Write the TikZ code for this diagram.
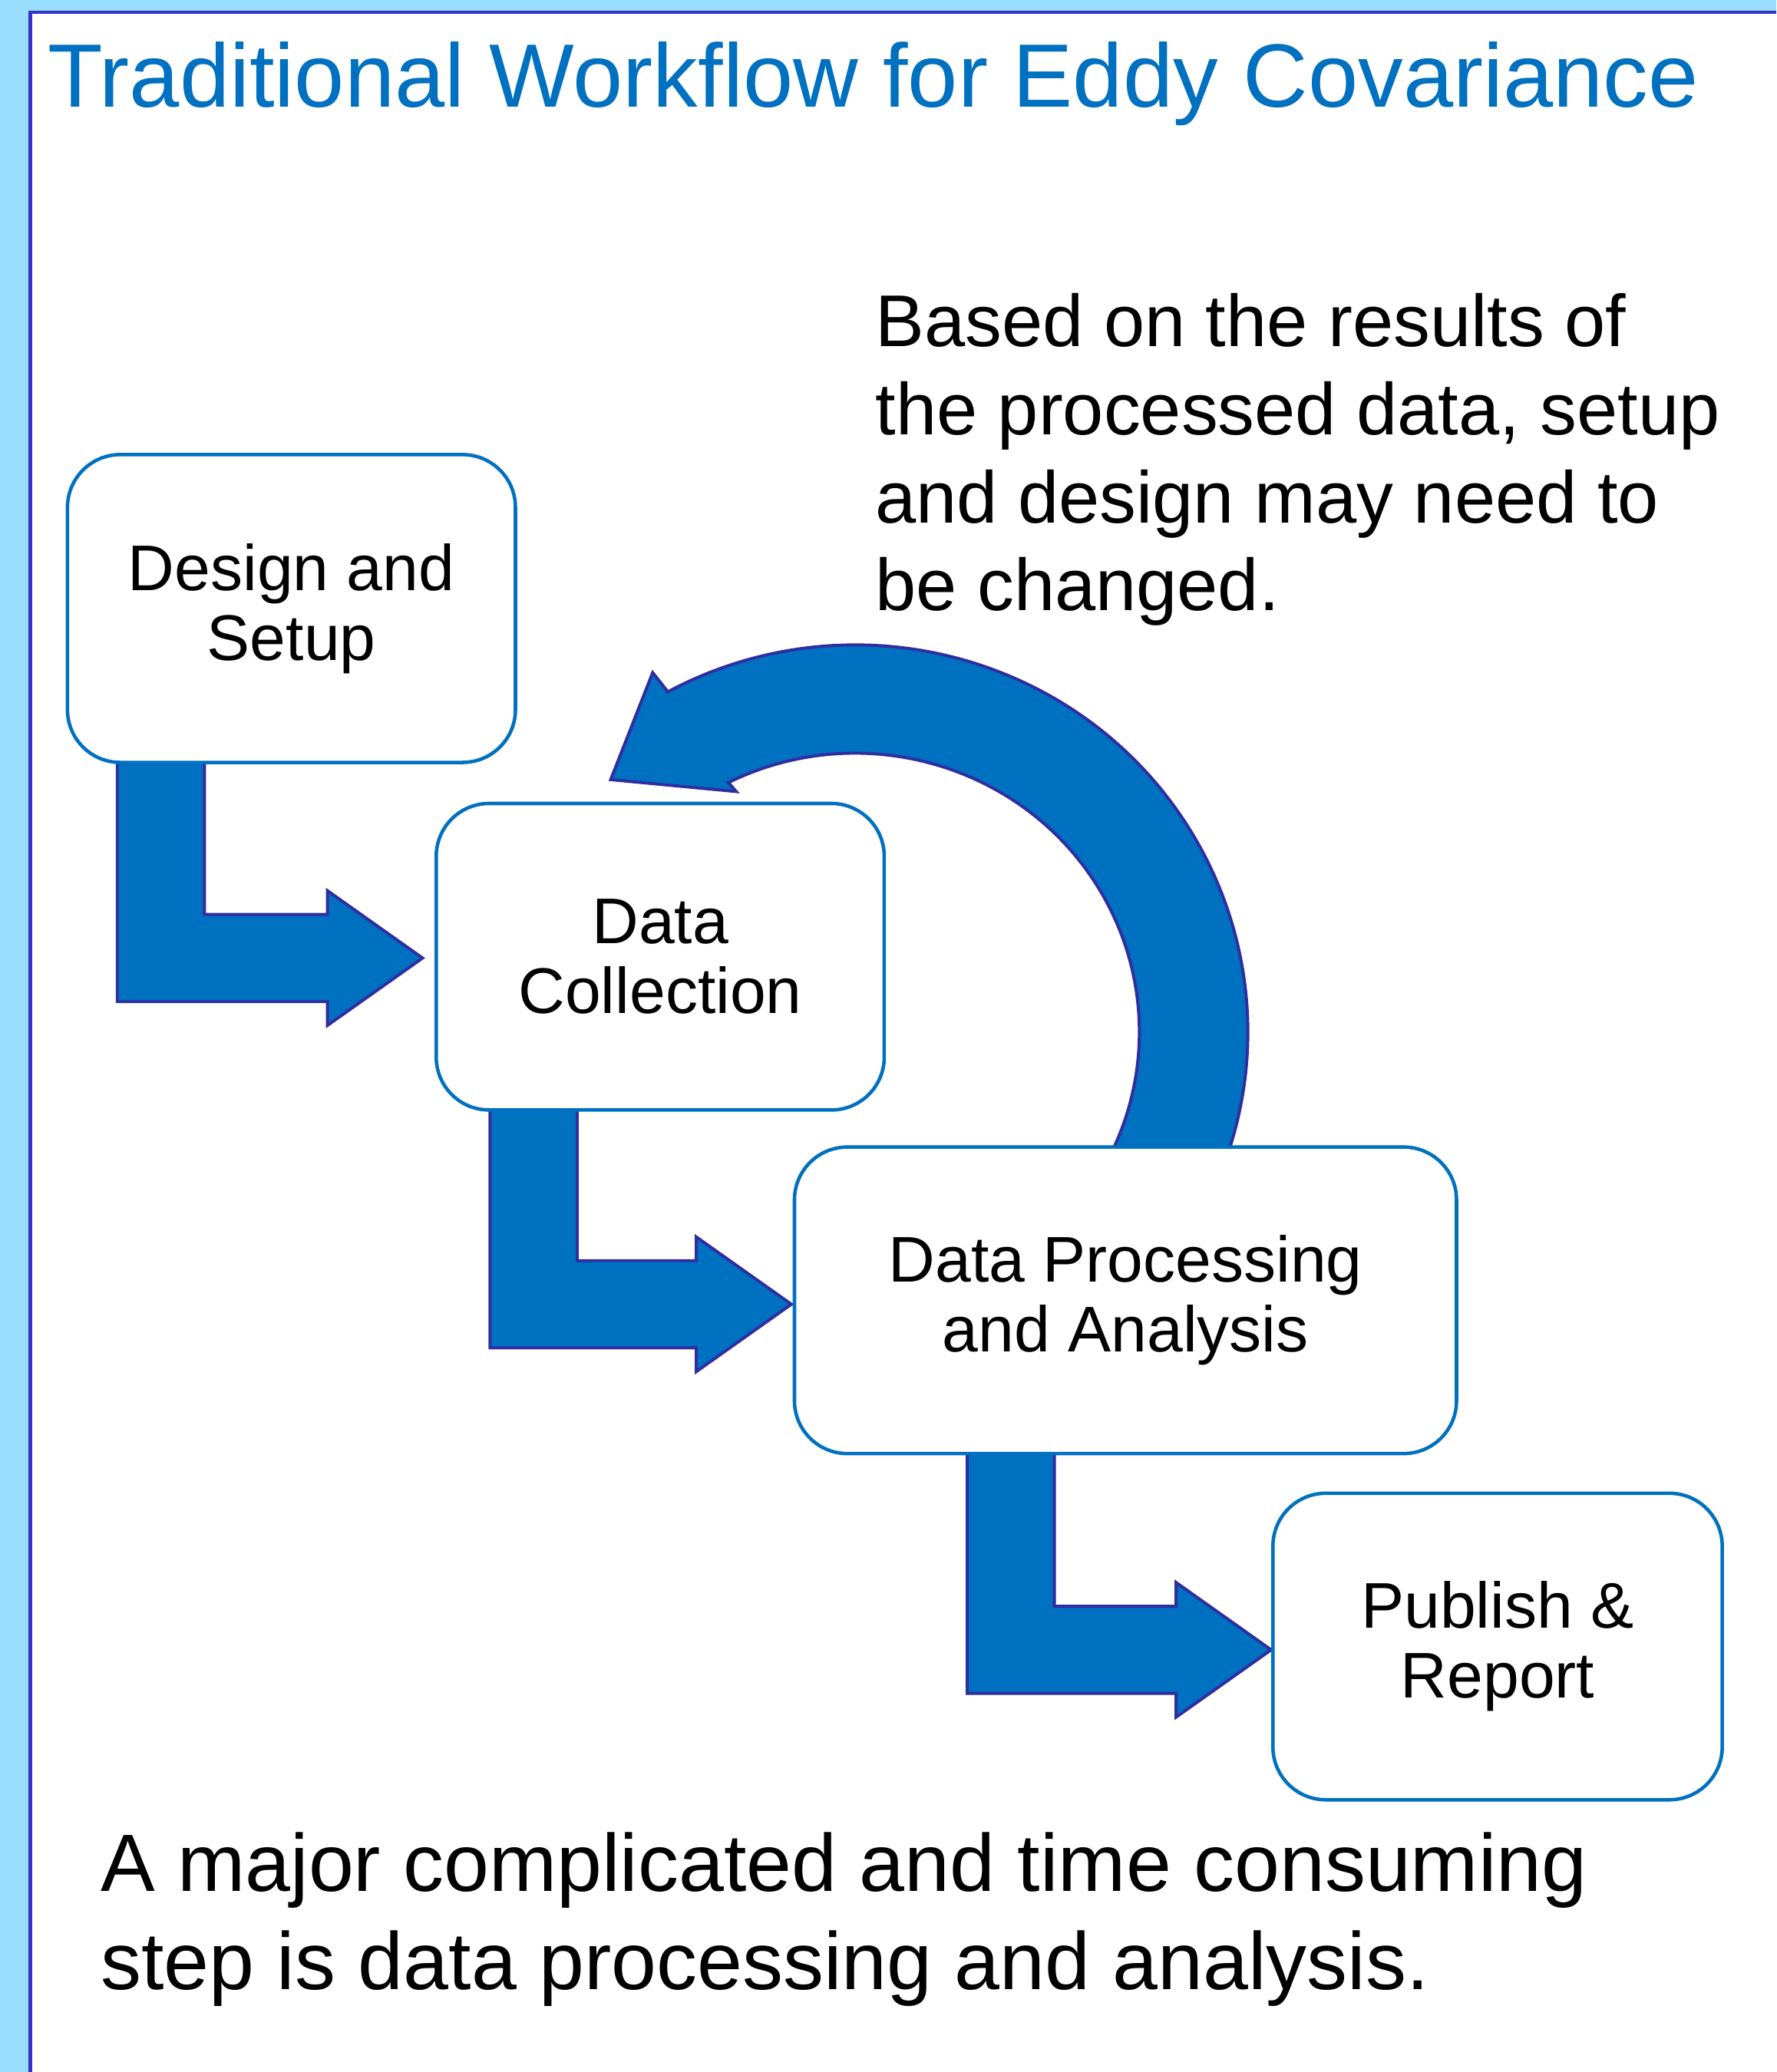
\documentclass[tikz,border=0pt]{standalone}
\usepackage{fontspec}
\setmainfont{Liberation Sans}
\usetikzlibrary{calc}
\definecolor{framebg}{HTML}{99DDFF}
\definecolor{frameline}{HTML}{3333CC}
\definecolor{titleblue}{HTML}{0070C0}
\definecolor{boxblue}{HTML}{0070C0}
\definecolor{arrowfill}{HTML}{0070C0}
\definecolor{arrowline}{HTML}{2E2EA0}
\begin{document}
\begin{tikzpicture}[x=0.02cm,y=-0.02cm,
  stepbox/.style={draw=boxblue, line width=1.5pt, fill=white, rounded corners=0.8cm,
    align=center, inner sep=0pt, font=\fontsize{27.8}{30}\selectfont},
  bigarrow/.style={fill=arrowfill, draw=arrowline, line width=1.3pt, line join=miter},
  linetext/.style={anchor=base west, inner sep=0pt, font=\fontsize{31.6}{38}\selectfont},
  bottomtext/.style={anchor=base west, inner sep=0pt, font=\fontsize{35}{42}\selectfont}]
\useasboundingbox (0,0) rectangle (1344,1568);
% frame
\fill[framebg] (0,0) rectangle (1344,1568);
\fill[white] (23,9) rectangle (1344,1568);
\draw[frameline, line width=1.5pt] (23,1568) -- (23,9.3) -- (1344,9.3);
% title
\node[anchor=base west, inner sep=0pt, text=titleblue, font=\fontsize{38.75}{46}\selectfont] (title) at (36,81) {Traditional Workflow for Eddy Covariance};
% note text
\node[linetext] (n1) at (662,262) {Based on the results of};
\node[linetext] (n2) at (662,329) {the processed data, setup};
\node[linetext] (n3) at (662,396) {and design may need to};
\node[linetext] (n4) at (662,462) {be changed.};
% bottom text
\node[bottomtext] (b1) at (76,1431) {A major complicated and time consuming};
\node[bottomtext] (b2) at (76,1505.5) {step is data processing and analysis.};
% node positions (coordinates only, boxes drawn later on top)
\coordinate (cDesign) at (220.5,460.5);
\coordinate (cCollect) at (499.5,724);
\coordinate (cProcess) at (851.5,984);
\coordinate (cPublish) at (1133,1246);
% box placeholders to get anchors
\path (cDesign) node[stepbox, draw=none, fill=none, minimum width=6.78cm, minimum height=4.66cm] (design0) {};
\path (cCollect) node[stepbox, draw=none, fill=none, minimum width=6.78cm, minimum height=4.64cm] (collect0) {};
\path (cProcess) node[stepbox, draw=none, fill=none, minimum width=10.02cm, minimum height=4.64cm] (process0) {};
\path (cPublish) node[stepbox, draw=none, fill=none, minimum width=6.8cm, minimum height=4.64cm] (publish0) {};
% L-shaped arrows
\newcommand{\Larrow}[2]{%
  \fill[bigarrow] (#1) -- ($(#1 |- #2)+(0,33)$) -- ($(#2)+(-72,33)$) -- ($(#2)+(-72,51)$)
    -- (#2) -- ($(#2)+(-72,-51)$) -- ($(#2)+(-72,-33)$) -- ($(#1 |- #2)+(66,-33)$)
    -- ($(#1)+(66,0)$) -- cycle;}
\coordinate (s1) at ($(design0.south west)+(39,-7)$);
\coordinate (t1) at ($(collect0.west)+(-9,1)$);
\coordinate (s2) at ($(collect0.south west)+(42,-5)$);
\coordinate (t2) at ($(process0.west)+(-1,3)$);
\coordinate (s3) at ($(process0.south west)+(132,-5)$);
\coordinate (t3) at ($(publish0.west)+(0,2.5)$);
\Larrow{s1}{t1}
\Larrow{s2}{t2}
\Larrow{s3}{t3}
% curved feedback arrow
\coordinate (cc) at (647,781);
\coordinate (barbOut) at (493.8,509);
\coordinate (tipC) at (462,590);
\coordinate (barbIn) at (557,599);
\fill[bigarrow] ($(cc)+(20:297 and 293)$) arc[start angle=20, end angle=-118.5, x radius=297, y radius=293]
  -- (barbOut) -- (tipC) -- (barbIn)
  -- ($(cc)+(-116.5:215 and 211)$) arc[start angle=-116.5, end angle=28, x radius=215, y radius=211] -- cycle;
% boxes
\node[stepbox, minimum width=6.78cm, minimum height=4.66cm] (design) at (cDesign) {\raisebox{-1.1pt}{Design and}\\\raisebox{-1.1pt}{Setup}};
\node[stepbox, minimum width=6.78cm, minimum height=4.64cm] (collect) at (cCollect) {Data\\Collection};
\node[stepbox, minimum width=10.02cm, minimum height=4.64cm] (process) at (cProcess) {\raisebox{-1.1pt}{Data Processing}\\\raisebox{-1.1pt}{and Analysis}};
\node[stepbox, minimum width=6.8cm, minimum height=4.64cm] (publish) at (cPublish) {\raisebox{-1.1pt}{Publish \&}\\\raisebox{-1.1pt}{Report}};
\end{tikzpicture}
\end{document}
